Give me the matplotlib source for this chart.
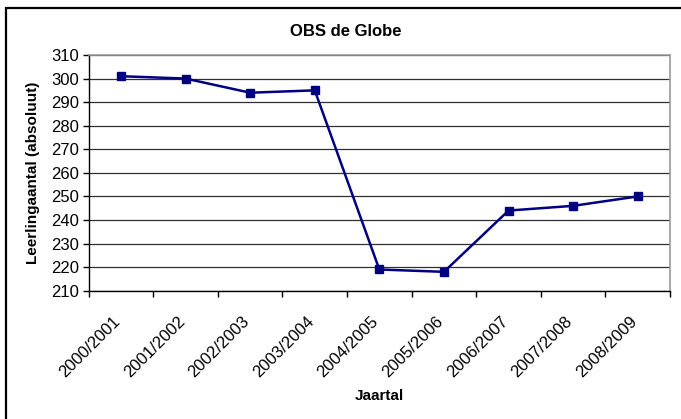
import matplotlib
matplotlib.use("Agg")
import matplotlib.pyplot as plt
from matplotlib.patches import Rectangle

# data
jaren = ['2000/2001', '2001/2002', '2002/2003', '2003/2004', '2004/2005',
         '2005/2006', '2006/2007', '2007/2008', '2008/2009']
leerlingen = [301, 300, 294, 295, 219, 218, 244, 246, 250]
y_ticks = list(range(210, 311, 10))

plt.rcParams['font.family'] = ['Liberation Sans', 'DejaVu Sans']

fig = plt.figure(figsize=(6.81, 4.19), dpi=100)
fig.patch.set_facecolor('white')

# outer chart border (cropped on the right and bottom)
fig.patches.append(Rectangle((5.5 / 681, -0.1), 1.2, 1 - 8.3 / 419 + 0.1,
                             transform=fig.transFigure, fill=False,
                             edgecolor='black', linewidth=1.6))

ax = fig.add_axes([88.7 / 681, 1 - 290.7 / 419, (670 - 88.7) / 681, (290.7 - 55) / 419])

x = list(range(len(jaren)))
ax.plot(x, leerlingen, color='#000080', linewidth=1.8, marker='s',
        markersize=5.5, markerfacecolor='#000080', markeredgecolor='#000080',
        zorder=3)

ax.set_xlim(-0.5, len(jaren) - 0.5)
ax.set_ylim(210, 310)
ax.set_yticks(y_ticks)
ax.set_yticklabels([str(v) for v in y_ticks], fontsize=12)

# category labels between tick marks (Excel style)
ax.set_xticks([i - 0.5 for i in range(len(jaren) + 1)])
ax.set_xticklabels([])
ax.set_xticks(x, minor=True)
ax.set_xticklabels(jaren, minor=True, rotation=45, ha='right', va='baseline',
                   rotation_mode='anchor', fontsize=12)
ax.tick_params(axis='x', which='minor', length=0, pad=22.5)
ax.tick_params(axis='x', which='major', length=4, width=1, direction='out')
ax.tick_params(axis='y', length=4, width=1, direction='out', pad=3)

ax.grid(axis='y', color='#303030', linewidth=0.9)
ax.set_axisbelow(True)

for side in ['top', 'right']:
    ax.spines[side].set_color('#999999')
    ax.spines[side].set_linewidth(1.2)
for side in ['left', 'bottom']:
    ax.spines[side].set_color('black')
    ax.spines[side].set_linewidth(1)

fig.text(346 / 681, 1 - 31 / 419, 'OBS de Globe', ha='center', va='center',
         fontsize=12, fontweight='bold')
fig.text(33 / 681, 1 - 173 / 419, 'Leerlingaantal (absoluut)', ha='center',
         va='center', rotation=90, fontsize=11, fontweight='bold')
fig.text(379 / 681, 1 - 396 / 419, 'Jaartal', ha='center', va='center',
         fontsize=11, fontweight='bold')

fig.savefig('out.png', dpi=100, facecolor='white')
